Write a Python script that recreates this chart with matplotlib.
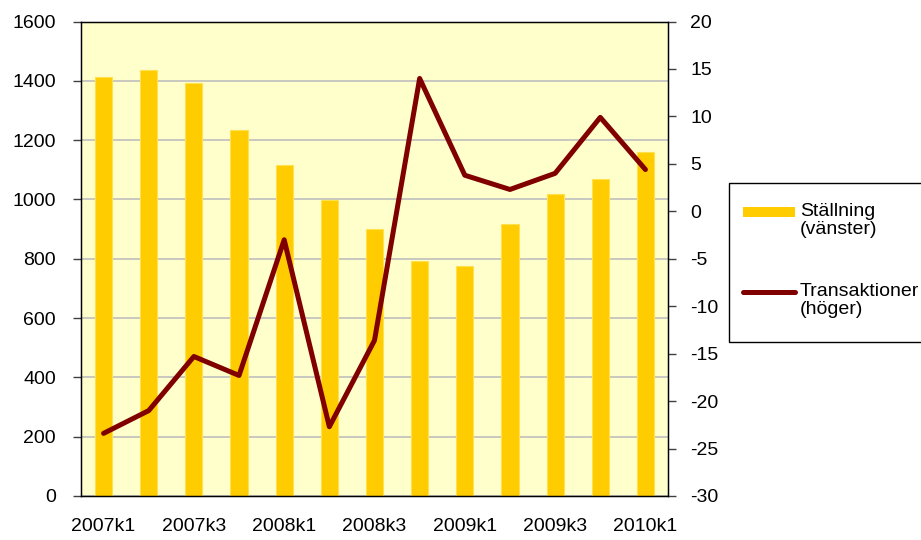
import matplotlib
matplotlib.use("Agg")
import matplotlib.pyplot as plt
from matplotlib.lines import Line2D
from matplotlib.patches import Rectangle

plt.rcParams['font.family'] = ['Liberation Sans', 'DejaVu Sans']
plt.rcParams['axes.unicode_minus'] = False

# --- data ---
quarters = ["2007k1", "2007k2", "2007k3", "2007k4",
            "2008k1", "2008k2", "2008k3", "2008k4",
            "2009k1", "2009k2", "2009k3", "2009k4",
            "2010k1"]
stallning = [1414, 1435, 1394, 1234, 1115, 998, 900, 794, 776, 917, 1019, 1069, 1159]
transaktioner = [-23.4, -21.0, -15.3, -17.3, -3.0, -22.7, -13.6, 14.0, 3.8, 2.3, 4.0, 9.9, 4.4]
left_ticks = [0, 200, 400, 600, 800, 1000, 1200, 1400, 1600]
right_ticks = [-30, -25, -20, -15, -10, -5, 0, 5, 10, 15, 20]

bar_color = "#FFCC00"
line_color = "#800000"

fig = plt.figure(figsize=(9.21, 5.4), dpi=100)
ax = fig.add_axes([81 / 921, 44 / 540, 587 / 921, 474.5 / 540])
ax.set_facecolor("#FFFFCC")

x = list(range(len(quarters)))
ax.bar(x, stallning, width=0.38, color=bar_color, edgecolor="#FFE04D",
       linewidth=0.8, zorder=2)
ax.set_xlim(-0.5, len(quarters) - 0.5)
ax.set_ylim(0, 1600)
ax.set_yticks(left_ticks)
ax.grid(axis="y", color="#C8C8C0", linewidth=1.4, zorder=1)
ax.set_axisbelow(True)

ax.set_xticks(x[::2])
ax.set_xticklabels(quarters[::2])
ax.tick_params(axis="x", length=0, pad=16, labelsize=14)
ax.tick_params(axis="y", length=6, width=1, pad=12, labelsize=14,
               color="#404040")
for s in ax.spines.values():
    s.set_color("#000000")
    s.set_linewidth(1.0)

# --- right axis ---
ax2 = ax.twinx()
ax2.plot(x, transaktioner, color=line_color, linewidth=3.6,
         solid_joinstyle="round", solid_capstyle="round", zorder=3)
ax2.set_ylim(-30, 20)
ax2.set_yticks(right_ticks)
ax2.tick_params(axis="y", length=6, width=1, pad=10, labelsize=14,
                color="#404040")
for lab in ax2.get_yticklabels():
    lab.set_horizontalalignment("left")

# --- legend box (Excel style, outside the plot) ---
fw, fh = 921, 540
box = Rectangle((729 / fw, 1 - 342 / fh), (200) / fw, (342 - 183) / fh,
                transform=fig.transFigure, facecolor="white",
                edgecolor="#000000", linewidth=1.0)
fig.add_artist(box)
fig.add_artist(Line2D([743 / fw, 795 / fw], [1 - 212 / fh] * 2,
                      transform=fig.transFigure, color=bar_color,
                      linewidth=7.2, solid_capstyle="butt"))
fig.add_artist(Line2D([743 / fw, 795 / fw], [1 - 292 / fh] * 2,
                      transform=fig.transFigure, color=line_color,
                      linewidth=3.6, solid_capstyle="round"))
fig.text(800 / fw, 1 - 203 / fh, "Ställning\n(vänster)", fontsize=14,
         va="top", ha="left", linespacing=1.05)
fig.text(800 / fw, 1 - 283 / fh, "Transaktioner\n(höger)", fontsize=14,
         va="top", ha="left", linespacing=1.05)

fig.savefig("out.png", dpi=100)
